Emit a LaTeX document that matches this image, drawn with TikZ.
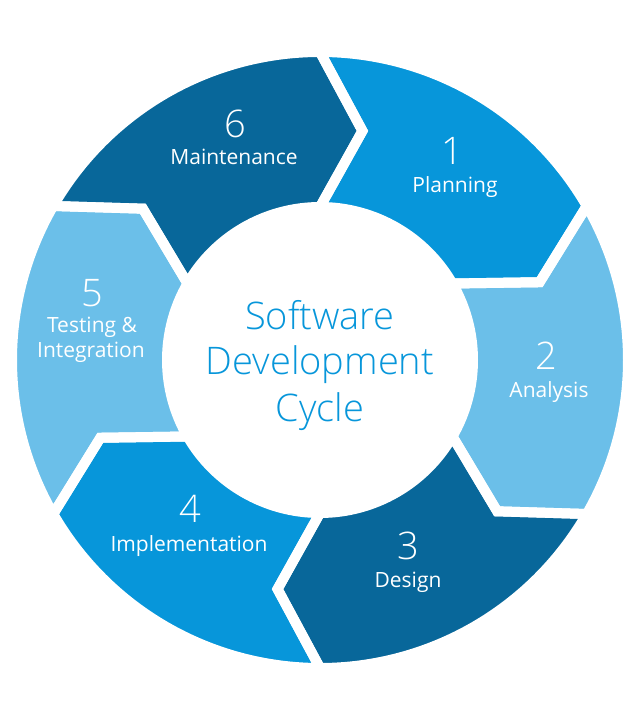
\documentclass[tikz,border=0pt]{standalone}
\usepackage{fontspec}
\setmainfont{Open Sans}
\IfFontExistsTF{Open Sans Light}{\newfontfamily\lightfont{Open Sans Light}}{\newfontfamily\lightfont{Open Sans}}
\definecolor{midblue}{RGB}{7,150,218}
\definecolor{lightblue}{RGB}{107,191,233}
\definecolor{darkblue}{RGB}{8,103,154}
\begin{document}
\begin{tikzpicture}[x=1pt,y=1pt,
  gapline/.style={draw=white, line width=10pt, line join=miter},
  num/.style={text=white, font=\lightfont\fontsize{38}{38}\selectfont, anchor=base, inner sep=0pt},
  lab/.style={text=white, font=\fontsize{21}{25}\selectfont, anchor=base, inner sep=0pt},
  title/.style={text=midblue, font=\lightfont\fontsize{38}{46}\selectfont, anchor=base, inner sep=0pt}]
\useasboundingbox (0,0) rectangle (640,720);
\def\Ro{308}\def\Ri{153}\def\Rm{233}\def\dd{10.5}
\begin{scope}[shift={(320,360)}]
\foreach \a/\c in {90/midblue,30/lightblue,-30/darkblue,-90/midblue,-150/lightblue,150/darkblue}{
  \pgfmathsetmacro\b{\a-60}
  \fill[fill=\c] (\a:\Ro) arc[start angle=\a, end angle=\b, radius=\Ro] -- ({\b-\dd}:\Rm) -- (\b:\Ri)
     arc[start angle=\b, end angle=\a, radius=\Ri] -- ({\a-\dd}:\Rm) -- cycle;
}
\foreach \a in {90,30,-30,-90,-150,150}{
  \pgfmathsetmacro\b{\a-60}
  \draw[gapline] (\a:\Ro) arc[start angle=\a, end angle=\b, radius=\Ro] -- ({\b-\dd}:\Rm) -- (\b:\Ri)
     arc[start angle=\b, end angle=\a, radius=\Ri] -- ({\a-\dd}:\Rm) -- cycle;
}
\end{scope}
\node[title] (t1) at (320,390) {Software};
\node[title] (t2) at (320,345) {Development};
\node[title] (t3) at (320,298) {Cycle};
\node[num] (n1) at (452,555) {1};
\node[lab] (l1) at (455,527) {Planning};
\node[num] (n2) at (546,350) {2};
\node[lab] (l2) at (549,322) {Analysis};
\node[num] (n3) at (408,160) {3};
\node[lab] (l3) at (408,132) {Design};
\node[num] (n4) at (190,197) {4};
\node[lab] (l4) at (189,168) {Implementation};
\node[num] (n5) at (92,413) {5};
\node[lab] (l5a) at (92,387) {Testing \&};
\node[lab] (l5b) at (91,362) {Integration};
\node[num] (n6) at (235,582) {6};
\node[lab] (l6) at (234,555) {Maintenance};
\end{tikzpicture}
\end{document}
